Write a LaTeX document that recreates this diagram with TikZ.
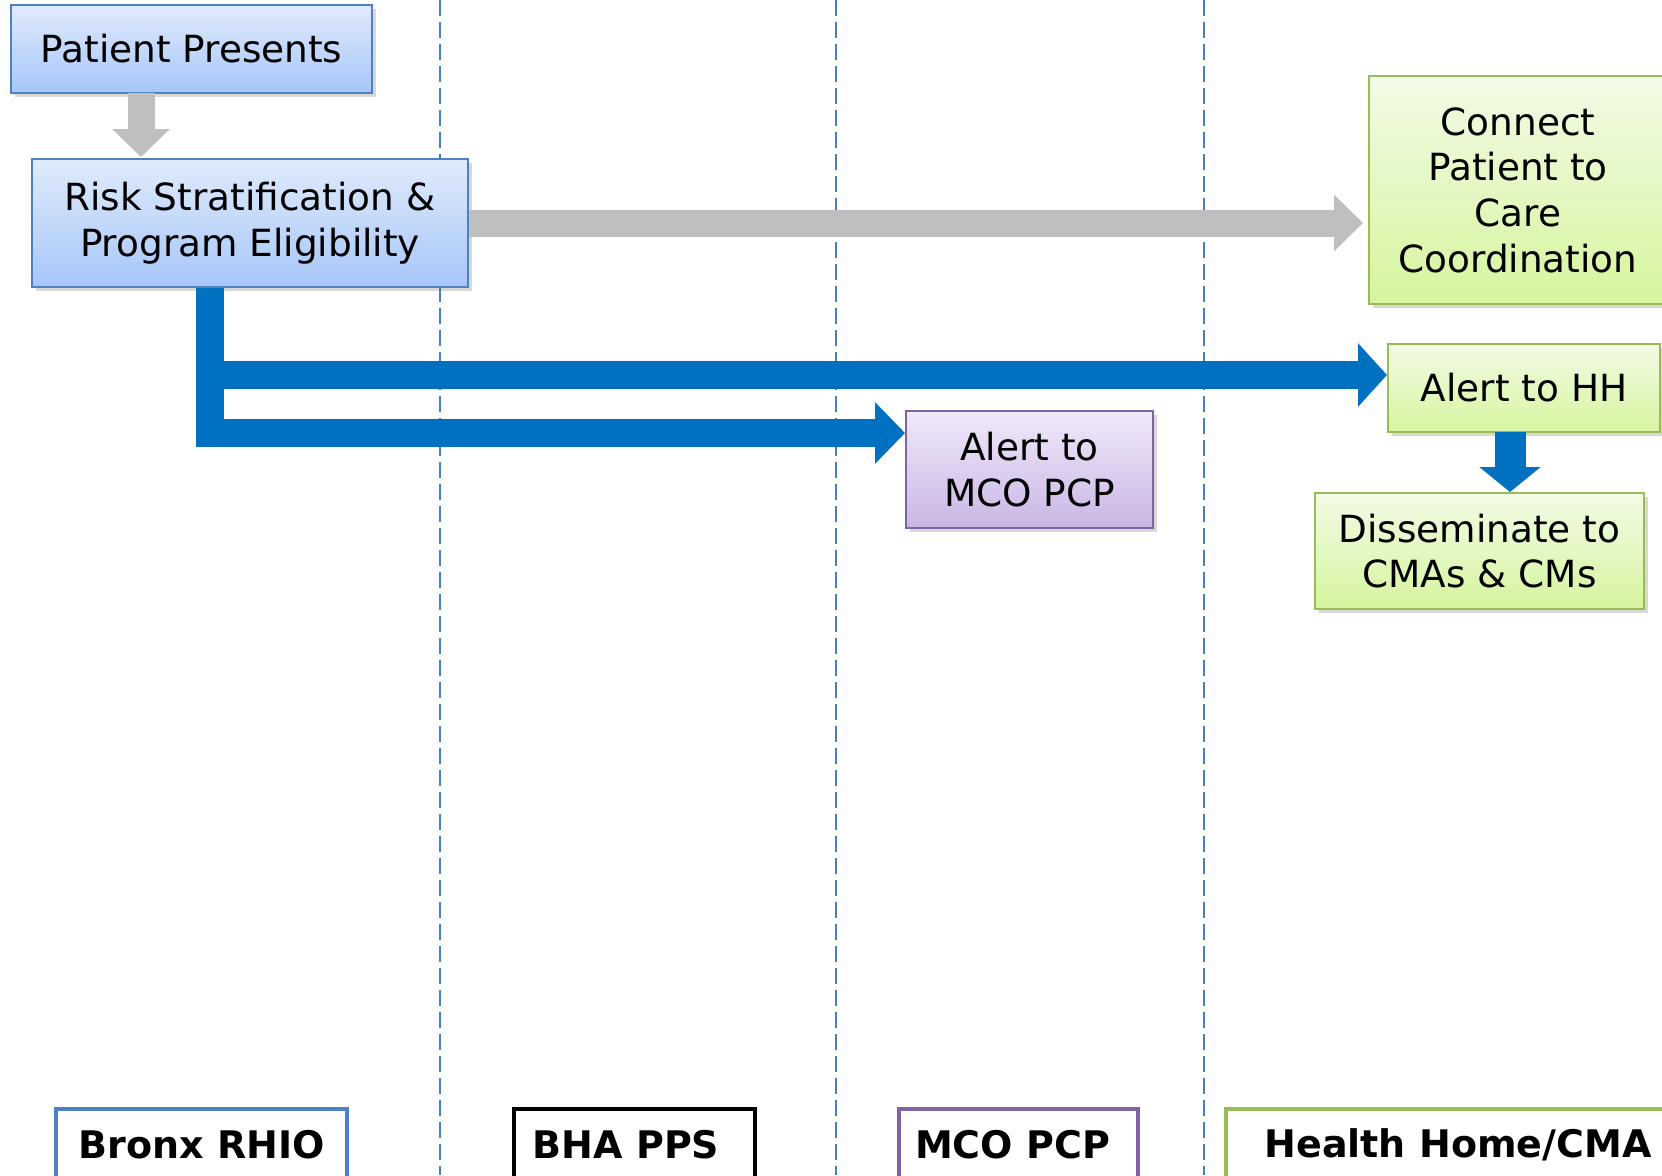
\documentclass[tikz,border=0pt]{standalone}
\usepackage{fontspec}
\setmainfont{DejaVu Sans}
\usetikzlibrary{arrows.meta,shadows,calc}
\definecolor{lanecol}{HTML}{4A7EBB}
\definecolor{arrowgray}{HTML}{BFBFBF}
\definecolor{arrowblue}{HTML}{0070C0}
\definecolor{bborder}{HTML}{4F81BD}
\definecolor{btop}{HTML}{E0EBFC}
\definecolor{bbot}{HTML}{A6C6F8}
\definecolor{gborder}{HTML}{9BBB59}
\definecolor{gtop}{HTML}{F2FBE6}
\definecolor{gbot}{HTML}{D6F59E}
\definecolor{pborder}{HTML}{8064A2}
\definecolor{ptop}{HTML}{F0E9F8}
\definecolor{pbot}{HTML}{CAB6E6}
\tikzset{
  lane/.style={draw=lanecol, line width=1pt, dash pattern=on 8pt off 3pt},
  box/.style={draw, line width=1pt, align=center, inner sep=0pt,
    font=\fontsize{18.7}{22.8}\selectfont,
    drop shadow={opacity=0.3, shadow xshift=1.8pt, shadow yshift=-1.8pt}},
  bluebox/.style={box, draw=bborder, top color=btop, bottom color=bbot},
  greenbox/.style={box, draw=gborder, top color=gtop, bottom color=gbot},
  purplebox/.style={box, draw=pborder, top color=ptop, bottom color=pbot},
  lanelabel/.style={draw, line width=2pt, fill=white, inner sep=0pt,
    font=\bfseries\fontsize{19}{22}\selectfont, minimum height=35.5pt},
  grayarrow/.style={draw=arrowgray, line width=13.5pt},
  bluearrow/.style={draw=arrowblue, line width=14pt, line join=miter},
}
\begin{document}
\begin{tikzpicture}[x=0.5pt,y=-0.5pt]
\useasboundingbox (0,0) rectangle (1662,1175);
\clip (0,0) rectangle (1662,1175);
\fill[white] (0,0) rectangle (1662,1175);

% lane separators
\draw[lane] (440,0) -- (440,1175);
\draw[lane] (836,0) -- (836,1175);
\draw[lane] (1204,0) -- (1204,1175);

% boxes
\node[bluebox, minimum width=180.5pt, minimum height=44pt] (patient) at (191.5,49) {Patient Presents};
\node[bluebox, minimum width=218pt, minimum height=64pt] (risk) at (250,223) {Risk Stratification \&\\Program Eligibility};
\node[greenbox, minimum width=149pt, minimum height=114pt] (connect) at (1518,190) {Connect\\Patient to\\Care\\Coordination};
\node[greenbox, minimum width=136pt, minimum height=44pt] (hh) at (1524,388) {Alert to HH};
\node[purplebox, minimum width=123.5pt, minimum height=58.5pt] (mco) at (1029.5,469.5) {Alert to\\MCO PCP};
\node[greenbox, minimum width=164.5pt, minimum height=58pt] (diss) at (1479.5,551) {Disseminate to\\CMAs \& CMs};

% gray arrows
\coordinate (g1) at (141,93);
\coordinate (g2) at (141,157);
\draw[grayarrow, -{Triangle[width=28pt,length=14pt]}] (g1) -- (g2);
\draw[grayarrow, shorten >=2.5pt, -{Triangle[width=27.5pt,length=14.5pt]}] (risk.east) -- (risk.east -| connect.west);

% blue arrows
\coordinate (bstart) at (210,288);
\coordinate (bl) at (210,433);
\coordinate (bu) at (210,375);
\draw[bluearrow, -{Triangle[width=30pt,length=15pt]}] (bstart) -- (bl) -- (bl -| mco.west);
\draw[bluearrow, -{Triangle[width=31pt,length=14.5pt]}] (bu) -- (bu -| hh.west);
\coordinate (d1) at (1510,432);
\coordinate (d2) at (1510,492);
\draw[draw=arrowblue, line width=15.5pt, -{Triangle[width=30pt,length=12.5pt]}] (d1) -- (d2);

% lane labels
\node[lanelabel, draw=bborder, minimum width=145.5pt] (l1) at (201.5,1144.5) {Bronx RHIO};
\node[lanelabel, draw=black, minimum width=120.5pt] (l2) at (634.5,1144.5) {\hspace*{-8.5pt}BHA PPS};
\node[lanelabel, draw=pborder, minimum width=119.5pt] (l3) at (1018.5,1144.5) {\hspace*{-6pt}MCO PCP};
\node[lanelabel, draw=gborder, minimum width=232pt] (l4) at (1458,1144.5) {Health Home/CMA};
\end{tikzpicture}
\end{document}
